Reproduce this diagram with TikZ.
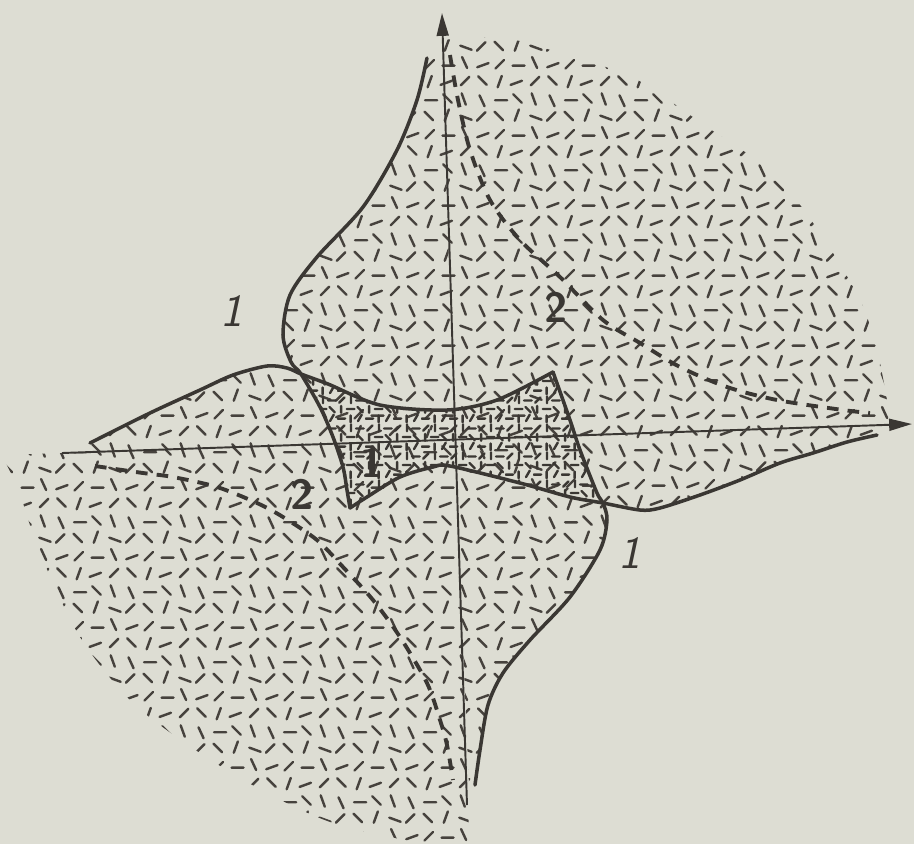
\documentclass[tikz,border=0pt]{standalone}
\usepackage{xcolor}
\usetikzlibrary{arrows.meta,patterns}

\definecolor{paper}{RGB}{221,221,211}
\definecolor{ink}{RGB}{58,55,51}
\definecolor{speck}{RGB}{70,66,61}

% one short stroke of the texture: centre, half vector
\newcommand{\gd}[4]{%
  \pgfpathmoveto{\pgfpoint{#1pt-(#3pt)}{#2pt-(#4pt)}}%
  \pgfpathlineto{\pgfpoint{#1pt+(#3pt)}{#2pt+(#4pt)}}}

\pgfdeclarepatternformonly{grit}{\pgfqpoint{0pt}{0pt}}{\pgfqpoint{20pt}{20pt}}{\pgfqpoint{20pt}{20pt}}{%
  \pgfsetlinewidth{0.7pt}\pgfsetroundcap
  \gd{2.5}{2.5}{1.22}{1.22}\gd{7.9}{2.1}{1.72}{0}\gd{12.5}{3}{0.72}{-1.56}\gd{17.75}{2.25}{1.62}{0.59}
  \gd{2.25}{7.75}{1.22}{-1.22}\gd{7.4}{8}{0.59}{1.62}\gd{12.9}{7.25}{1.62}{-0.59}\gd{17.25}{7.6}{1.22}{1.22}
  \gd{2.9}{12.25}{1.72}{0}\gd{7.6}{12.75}{1.22}{-1.22}\gd{12.25}{12.6}{-0.59}{1.62}\gd{17.5}{12.1}{0.72}{-1.56}
  \gd{2.5}{17.6}{0.59}{1.62}\gd{7.25}{17.25}{1.62}{0.59}\gd{12.6}{17.75}{1.22}{1.22}\gd{17.6}{17.9}{1.22}{-1.22}
  \pgfusepath{stroke}}

\pgfdeclarepatternformonly{dense}{\pgfqpoint{0pt}{0pt}}{\pgfqpoint{8pt}{8pt}}{\pgfqpoint{8pt}{8pt}}{%
  \pgfsetlinewidth{0.7pt}\pgfsetroundcap
  \gd{1.3}{1.3}{1.1}{0}\gd{4}{1.2}{0}{1.0}\gd{6.7}{1.5}{0.55}{0.95}
  \gd{1.2}{4}{0}{1.0}\gd{4}{4.1}{1.1}{0}\gd{6.8}{3.9}{0.78}{-0.78}
  \gd{1.4}{6.7}{0.78}{0.78}\gd{4.1}{6.8}{0}{1.0}\gd{6.7}{6.6}{1.1}{0}
  \pgfusepath{stroke}}

\begin{document}
\begin{tikzpicture}[x=0.01cm, y=-0.01cm,
  axis/.style={ink, line width=0.55pt, -{Triangle[length=6.5pt,width=3.4pt]}},
  rim/.style={ink, line width=1pt, line cap=round},
  guide/.style={ink, line width=1.1pt, dash pattern=on 3.3pt off 2.6pt},
  speckled/.style={pattern=grit, pattern color=speck},
  crowded/.style={pattern=dense, pattern color=ink},
  lbl/.style={ink, font=\sffamily\bfseries\fontsize{12}{14}\selectfont},
  slant lbl/.style={ink, font=\sffamily\slshape\fontsize{13}{15}\selectfont}]

\clip (0,0) rectangle (914,844);
\fill[paper] (0,0) rectangle (914,844);

% Key points
\coordinate (O) at (454,440);
\coordinate (xl) at (62,453);
\coordinate (xr) at (912,424);
\coordinate (yb) at (467,805);
\coordinate (yt) at (442,13);

% Region 2: the two sectors
\fill[speckled] (O) -- (443,40) -- plot[smooth] coordinates {(443,40) (480,37) (520,41) (560,53) (600,65) (643,83) (707,127) (773,173) (820,233) (860,300) (877,350) (887,400) (891,425)} -- cycle;
\fill[speckled] (O) -- (2,455) -- plot[smooth] coordinates {(2,455) (14,480) (22,500) (40,553) (80,637) (133,703) (200,753) (267,793) (333,823) (417,843) (470,858)} -- cycle;

% Region 2: the four lobes
\fill[speckled] (O) -- (443,56) -- plot[smooth] coordinates {(427,58) (417,100) (397,150) (363,207) (317,257) (290,295) (283,335) (291,362) (301,374)} -- cycle;
\fill[speckled] (O) -- (90,452) -- plot[smooth] coordinates {(90,443) (150,413) (200,390) (233,375) (267,366) (287,368) (301,374)} -- cycle;
\fill[speckled] (O) -- (469,785) -- plot[smooth] coordinates {(475,785) (480,750) (488,705) (503,673) (530,640) (570,597) (600,550) (607,520) (603,503)} -- cycle;
\fill[speckled] (O) -- (880,426) -- plot[smooth] coordinates {(877,435) (847,442) (813,453) (780,463) (740,480) (700,495) (660,508) (640,510) (603,503)} -- cycle;

% Inner region
\fill[crowded] plot[smooth] coordinates {(301,374) (328,384) (380,405) (447,410) (497,400) (553,372)}
  -- plot[smooth] coordinates {(553,372) (570,420) (580,450) (597,493) (603,503)}
  -- plot[smooth] coordinates {(603,503) (570,497) (520,483) (450,466) (433,467) (400,477) (367,497) (350,508)}
  -- plot[smooth] coordinates {(350,508) (347,490) (343,467) (333,437) (320,407) (301,374)} -- cycle;

% Axes
\draw[axis] (xl) -- (xr);
\draw[axis] (yb) -- (yt);

% Dashed boundaries
\draw[guide] plot[smooth] coordinates {(450,55) (458,100) (470,150) (490,200) (520,240) (560,277) (603,320) (640,343) (680,367) (727,387) (777,400) (843,410) (870,413)};
\draw[guide] plot[smooth] coordinates {(95,466) (143,473) (173,477) (217,487) (257,503) (283,517) (317,540) (343,567) (373,600) (400,637) (427,683) (440,720) (447,745) (453,780)};

% Solid boundaries
\draw[rim] plot[smooth] coordinates {(427,58) (417,100) (397,150) (363,207) (317,257) (290,295) (283,335) (291,362) (301,374) (320,407) (333,437) (343,467) (347,490) (350,508)};
\draw[rim] plot[smooth] coordinates {(90,443) (150,413) (200,390) (233,375) (267,366) (287,368) (301,374) (328,384) (380,405) (447,410) (497,400) (553,372)};
\draw[rim] plot[smooth] coordinates {(553,372) (570,420) (580,450) (597,493) (603,503) (607,520) (600,550) (570,597) (530,640) (503,673) (488,705) (480,750) (475,785)};
\draw[rim] plot[smooth] coordinates {(877,435) (847,442) (813,453) (780,463) (740,480) (700,495) (660,508) (640,510) (603,503) (570,497) (520,483) (450,466) (433,467) (400,477) (367,497) (350,508)};

% Labels
\node[lbl] (twoup) at (556,307) {2};
\node[lbl] (twolow) at (302,494) {2};
\node[slant lbl] (oneleft) at (232,311) {1};
\node[slant lbl] (oneright) at (630,553) {1};
\node[lbl] (onein) at (372,462) {1};

\end{tikzpicture}
\end{document}
